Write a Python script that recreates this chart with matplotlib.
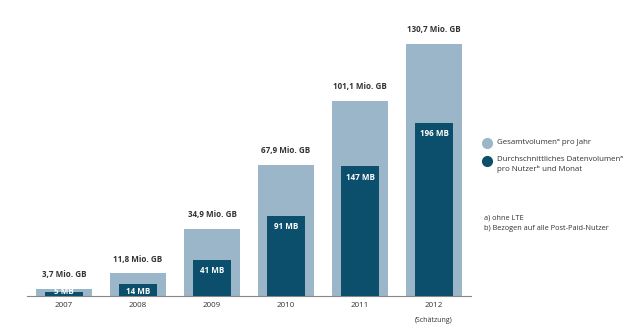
import matplotlib.pyplot as plt
from matplotlib.lines import Line2D

plt.rcParams['font.family'] = ['Open Sans', 'DejaVu Sans']

years = ["2007", "2008", "2009", "2010", "2011", "2012"]
total_gb = [3.7, 11.8, 34.9, 67.9, 101.1, 130.7]          # Mio. GB per year
per_user_mb = [5, 14, 41, 91, 147, 196]                    # MB per user and month
total_labels = ["3,7 Mio. GB", "11,8 Mio. GB", "34,9 Mio. GB",
                "67,9 Mio. GB", "101,1 Mio. GB", "130,7 Mio. GB"]

LIGHT = "#9bb6c9"
DARK = "#0b4f6c"
TEXT = "#333333"

fig = plt.figure(figsize=(6.4, 3.29), dpi=100)
ax_h_px = 256
ax = fig.add_axes([27 / 640, 33 / 329, 444 / 640, ax_h_px / 329])
ax2 = ax.twinx()

x = range(len(years))
light_top = 132.8
dark_top = 290
ax.set_ylim(0, light_top)
ax2.set_ylim(0, dark_top)

ax.bar(x, total_gb, width=0.77, color=LIGHT, zorder=1)
ax2.bar(x, per_user_mb, width=0.51, color=DARK, zorder=2)

for i, (v, lab) in enumerate(zip(total_gb, total_labels)):
    ax.annotate(lab, (i, v), xytext=(0, 7), textcoords="offset points",
                ha="center", va="bottom", fontsize=5.8, fontweight="bold",
                color=TEXT)

dpp = dark_top / ax_h_px
for i, v in enumerate(per_user_mb):
    yc = max(v - 11 * dpp, 4 * dpp)
    ax2.text(i, yc, f"{v} MB", ha="center", va="center", fontsize=5.8,
             color="white", fontweight="bold")

for a in (ax, ax2):
    a.set_xlim(-0.5, len(years) - 0.5)
    a.set_yticks([])
    for s in a.spines.values():
        s.set_visible(False)
ax.spines["bottom"].set_visible(True)
ax.spines["bottom"].set_color("#888888")
ax.spines["bottom"].set_linewidth(0.8)
ax.set_xticks([i - 0.5 for i in range(len(years) + 1)])
ax.set_xticklabels([])
ax.tick_params(axis="x", length=6, width=0.8, color="#888888", direction="out")
ax2.set_xticks([])

for i, y in enumerate(years):
    ax.annotate(y, (i, 0), xytext=(0, -4), textcoords="offset points",
                ha="center", va="top", fontsize=5.8, color=TEXT,
                annotation_clip=False)
ax.annotate("(Schätzung)", (len(years) - 1, 0), xytext=(0, -15),
            textcoords="offset points", ha="center", va="top", fontsize=5,
            color=TEXT, annotation_clip=False)

# legend
fig.add_artist(Line2D([487 / 640], [1 - 143 / 329], marker="o", markersize=7,
                      color=LIGHT, linestyle="none"))
fig.add_artist(Line2D([487 / 640], [1 - 161 / 329], marker="o", markersize=7,
                      color=DARK, linestyle="none"))
fig.text(497 / 640, 1 - 143 / 329, "Gesamtvolumenᵃ pro Jahr", fontsize=5.7,
         color=TEXT, va="center")
fig.text(497 / 640, 1 - 156 / 329, "Durchschnittliches Datenvolumenᵃ\npro Nutzerᵇ und Monat",
         fontsize=5.7, color=TEXT, va="top", linespacing=1.35)

fig.text(484 / 640, 1 - 218 / 329, "a) ohne LTE", fontsize=5.3, color=TEXT,
         va="center")
fig.text(484 / 640, 1 - 229 / 329, "b) Bezogen auf alle Post-Paid-Nutzer",
         fontsize=5.3, color=TEXT, va="center")

fig.savefig("out.png", dpi=100)
